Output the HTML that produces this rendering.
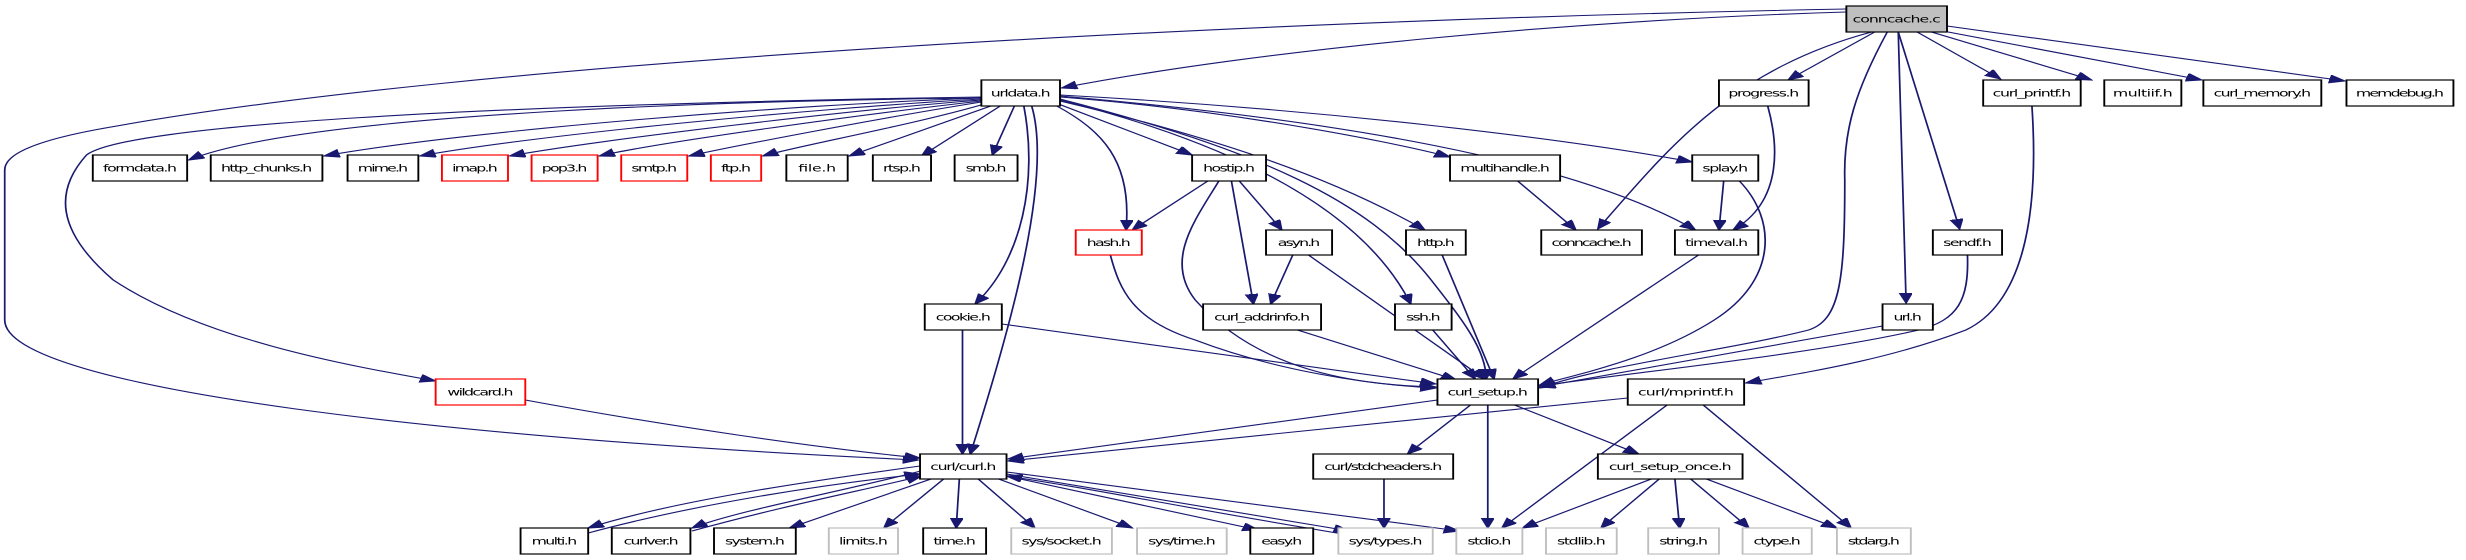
<!DOCTYPE html>
<html><head><meta charset="utf-8"><style>
html,body{margin:0;padding:0;background:#fff;}
svg{display:block;}
text{font-family:"DejaVu Sans","Liberation Sans",sans-serif;font-size:10px;text-anchor:middle;fill:#000;}
.n{fill:#fff;stroke:#000;stroke-width:1.2;}
.r{fill:#fff;stroke:#f00;stroke-width:1.2;}
.g{fill:#fff;stroke:#bfbfbf;stroke-width:1.2;}
.e{fill:none;stroke:#191970;stroke-width:1.1;marker-end:url(#a);}
</style></head><body>
<svg width="2466" height="560" viewBox="0 0 1568 560" preserveAspectRatio="none" xmlns="http://www.w3.org/2000/svg">
<defs><marker id="a" markerUnits="userSpaceOnUse" markerWidth="11" markerHeight="9" refX="10" refY="4" orient="auto"><path d="M0,0 L10,4 L0,8 z" fill="#191970" stroke="#191970"/></marker></defs>
<g>
<path class="e" d="M1174,12 C1000,20 800,50 675,88"/>
<path class="e" d="M1174,9 C800,20 300,60 60,130 C10,145 3,160 3,170 L3,320 C3,390 300,440 584,460"/>
<path class="e" d="M1190,32 C1100,70 1060,150 1016,229"/>
<path class="e" d="M1192,32 L1137,80"/>
<path class="e" d="M1200,32 C1180,90 1172,130 1173,180 C1173,280 1170,320 1150,330 C1100,350 1020,365 979,388"/>
<path class="e" d="M1207,32 L1246,229"/>
<path class="e" d="M1207,32 L1212,303"/>
<path class="e" d="M1219,32 L1272,79"/>
<path class="e" d="M1226,31 L1330,80"/>
<path class="e" d="M1232,30 L1400,80"/>
<path class="e" d="M1238,26 L1491,81"/>
<path class="e" d="M624,98 C500,100 200,110 120,160"/>
<path class="e" d="M624,98 C500,105 300,130 206,156"/>
<path class="e" d="M624,99 C520,108 340,135 267,156"/>
<path class="e" d="M624,100 C540,110 380,140 324,156"/>
<path class="e" d="M624,101 C550,114 420,142 381,156"/>
<path class="e" d="M624,102 C560,118 470,145 438,156"/>
<path class="e" d="M626,104 C580,125 510,145 485,156"/>
<path class="e" d="M630,106 L540,156"/>
<path class="e" d="M636,106 L586,156"/>
<path class="e" d="M645,106 L631,155"/>
<path class="e" d="M624,97 C300,105 80,125 55,155 C35,190 35,230 72,280 C130,340 220,365 277,381"/>
<path class="e" d="M651,106 C660,180 650,260 620,304"/>
<path class="e" d="M656,106 C670,180 640,340 617,454"/>
<path class="e" d="M672,106 C700,130 720,160 716,230"/>
<path class="e" d="M673,104 L758,155"/>
<path class="e" d="M674,101 C780,140 850,180 906,230"/>
<path class="e" d="M674,100 C800,150 870,220 897,304"/>
<path class="e" d="M674,99 C800,150 870,200 910,280 C930,320 945,350 945,379"/>
<path class="e" d="M674,97 C780,110 880,140 922,157"/>
<path class="e" d="M674,96 C850,120 1000,160 1078,230"/>
<path class="e" d="M674,95 C850,110 1000,140 1076,162"/>
<path class="e" d="M768,181 L720,230"/>
<path class="e" d="M788,181 L815,230"/>
<path class="e" d="M783,181 L797,304"/>
<path class="e" d="M775,181 C760,220 740,260 760,300 C800,370 860,385 913,387"/>
<path class="e" d="M965,181 L1002,230"/>
<path class="e" d="M1096,181 L1093,230"/>
<path class="e" d="M1106,181 C1130,220 1130,280 1090,320 C1050,360 1000,375 979,385"/>
<path class="e" d="M1124,106 C1130,140 1135,200 1102,230"/>
<path class="e" d="M1080,255 L962,379"/>
<path class="e" d="M822,255 L808,304"/>
<path class="e" d="M832,255 L944,379"/>
<path class="e" d="M706,255 C712,290 720,320 760,340 C810,370 870,385 913,388"/>
<path class="e" d="M917,255 L950,379"/>
<path class="e" d="M911,330 L938,379"/>
<path class="e" d="M825,330 L926,380"/>
<path class="e" d="M637,324 L913,384"/>
<path class="e" d="M612,330 L612,454"/>
<path class="e" d="M1251,255 C1252,300 1245,320 1220,330 C1150,355 1040,372 979,386"/>
<path class="e" d="M1197,326 L979,387"/>
<path class="e" d="M1292,106 C1296,200 1290,300 1250,330 C1200,360 1150,372 1110,383"/>
<path class="e" d="M334,400 C420,425 520,448 585,458"/>
<path class="e" d="M914,400 L641,459"/>
<path class="e" d="M1035,398 L641,461"/>
<path class="e" d="M935,405 L895,454"/>
<path class="e" d="M946,405 L946,528"/>
<path class="e" d="M963,405 L1042,454"/>
<path class="e" d="M1060,405 L955,528"/>
<path class="e" d="M1083,405 L1177,528"/>
<path class="e" d="M1050,479 L968,528"/>
<path class="e" d="M1055,479 L1018,528"/>
<path class="e" d="M1065,479 L1068,528"/>
<path class="e" d="M1075,479 L1112,528"/>
<path class="e" d="M1085,479 L1168,528"/>
<path class="e" d="M880,479 L880,528"/>
<path class="e" d="M585,466 C520,480 430,500 374,528"/>
<path class="e" d="M374,533 C440,505 520,485 585,474"/>
<path class="e" d="M588,470 C540,490 470,510 440,528"/>
<path class="e" d="M440,531 C500,505 550,490 586,476"/>
<path class="e" d="M592,479 L502,528"/>
<path class="e" d="M600,479 L562,528"/>
<path class="e" d="M610,479 L608,528"/>
<path class="e" d="M622,479 L658,528"/>
<path class="e" d="M635,479 L720,528"/>
<path class="e" d="M640,476 L800,530"/>
<path class="e" d="M640,474 L858,531"/>
<path class="e" d="M640,472 L928,531"/>
<path class="e" d="M858,535 C760,510 700,490 640,476"/>
</g>
<rect x="1174" y="6" width="64" height="26" fill="#bfbfbf" stroke="#000" stroke-width="1.2"/><text x="1206" y="22.5" textLength="56">conncache.c</text>
<rect class="n" x="624" y="80" width="50" height="26"/><text x="649" y="96.5" textLength="38">urldata.h</text>
<rect class="n" x="1093" y="80" width="57" height="26"/><text x="1121.5" y="96.5" textLength="45">progress.h</text>
<rect class="n" x="1261" y="80" width="62" height="26"/><text x="1292" y="96.5" textLength="50">curl_printf.h</text>
<rect class="n" x="1338" y="80" width="49" height="26"/><text x="1362.5" y="96.5" textLength="38">multiif.h</text>
<rect class="n" x="1401" y="80" width="75" height="26"/><text x="1438.5" y="96.5" textLength="62">curl_memory.h</text>
<rect class="n" x="1492" y="80" width="68" height="26"/><text x="1526" y="96.5" textLength="56">memdebug.h</text>
<rect class="n" x="59" y="155" width="60" height="26"/><text x="89" y="171.5" textLength="47">formdata.h</text>
<rect class="n" x="134" y="155" width="71" height="26"/><text x="169.5" y="171.5" textLength="58">http_chunks.h</text>
<rect class="n" x="221" y="155" width="45" height="26"/><text x="243.5" y="171.5" textLength="32">mime.h</text>
<rect class="r" x="281" y="155" width="42" height="26"/><text x="302" y="171.5" textLength="29">imap.h</text>
<rect class="r" x="338" y="155" width="42" height="26"/><text x="359" y="171.5" textLength="29">pop3.h</text>
<rect class="r" x="395" y="155" width="42" height="26"/><text x="416" y="171.5" textLength="29">smtp.h</text>
<rect class="r" x="452" y="155" width="32" height="26"/><text x="468" y="171.5" textLength="19">ftp.h</text>
<rect class="n" x="500" y="155" width="39" height="26"/><text x="519.5" y="171.5" textLength="24">file.h</text>
<rect class="n" x="555" y="155" width="37" height="26"/><text x="573.5" y="171.5" textLength="24">rtsp.h</text>
<rect class="n" x="607" y="155" width="40" height="26"/><text x="627" y="171.5" textLength="26">smb.h</text>
<rect class="n" x="758" y="155" width="47" height="26"/><text x="781.5" y="171.5" textLength="33">hostip.h</text>
<rect class="n" x="922" y="155" width="70" height="26"/><text x="957" y="171.5" textLength="57">multihandle.h</text>
<rect class="n" x="1076" y="155" width="42" height="26"/><text x="1097" y="171.5" textLength="29">splay.h</text>
<rect class="r" x="684" y="230" width="42" height="25"/><text x="705" y="246" textLength="28">hash.h</text>
<rect class="n" x="805" y="230" width="42" height="25"/><text x="826" y="246" textLength="27">asyn.h</text>
<rect class="n" x="894" y="230" width="38" height="25"/><text x="913" y="246" textLength="24">http.h</text>
<rect class="n" x="980" y="230" width="64" height="25"/><text x="1012" y="246" textLength="51">conncache.h</text>
<rect class="n" x="1065" y="230" width="53" height="25"/><text x="1091.5" y="246" textLength="40">timeval.h</text>
<rect class="n" x="1229" y="230" width="44" height="25"/><text x="1251" y="246" textLength="31">sendf.h</text>
<rect class="n" x="588" y="304" width="49" height="26"/><text x="612.5" y="320.5" textLength="35">cookie.h</text>
<rect class="n" x="765" y="304" width="75" height="26"/><text x="802.5" y="320.5" textLength="61">curl_addrinfo.h</text>
<rect class="n" x="887" y="304" width="36" height="26"/><text x="905" y="320.5" textLength="22">ssh.h</text>
<rect class="n" x="1197" y="304" width="32" height="26"/><text x="1213" y="320.5" textLength="18">url.h</text>
<rect class="r" x="277" y="379" width="57" height="26"/><text x="305.5" y="395.5" textLength="42">wildcard.h</text>
<rect class="n" x="914" y="379" width="64" height="26"/><text x="946" y="395.5" textLength="51">curl_setup.h</text>
<rect class="n" x="1035" y="379" width="74" height="26"/><text x="1072" y="395.5" textLength="61">curl/mprintf.h</text>
<rect class="n" x="585" y="454" width="55" height="25"/><text x="612.5" y="470" textLength="42">curl/curl.h</text>
<rect class="n" x="835" y="454" width="89" height="25"/><text x="879.5" y="470" textLength="75">curl/stdcheaders.h</text>
<rect class="n" x="1016" y="454" width="92" height="25"/><text x="1062" y="470" textLength="78">curl_setup_once.h</text>
<rect class="n" x="331" y="528" width="43" height="26"/><text x="352.5" y="544.5" textLength="29">multi.h</text>
<rect class="n" x="389" y="528" width="50" height="26"/><text x="414" y="544.5" textLength="35">curlver.h</text>
<rect class="n" x="454" y="528" width="52" height="26"/><text x="480" y="544.5" textLength="38">system.h</text>
<rect class="g" x="527" y="528" width="44" height="26"/><text x="549" y="544.5" textLength="31">limits.h</text>
<rect class="n" x="587" y="528" width="40" height="26"/><text x="607" y="544.5" textLength="27">time.h</text>
<rect class="g" x="643" y="528" width="64" height="26"/><text x="675" y="544.5" textLength="51">sys/socket.h</text>
<rect class="g" x="723" y="528" width="57" height="26"/><text x="751.5" y="544.5" textLength="43">sys/time.h</text>
<rect class="n" x="795" y="528" width="40" height="26"/><text x="815" y="544.5" textLength="26">easy.h</text>
<rect class="g" x="851" y="528" width="60" height="26"/><text x="881" y="544.5" textLength="47">sys/types.h</text>
<rect class="g" x="926" y="528" width="42" height="26"/><text x="947" y="544.5" textLength="28">stdio.h</text>
<rect class="g" x="983" y="528" width="45" height="26"/><text x="1005.5" y="544.5" textLength="31">stdlib.h</text>
<rect class="g" x="1048" y="528" width="45" height="26"/><text x="1070.5" y="544.5" textLength="31">string.h</text>
<rect class="g" x="1108" y="528" width="44" height="26"/><text x="1130" y="544.5" textLength="30">ctype.h</text>
<rect class="g" x="1168" y="528" width="47" height="26"/><text x="1191.5" y="544.5" textLength="33">stdarg.h</text>
</svg>
</body></html>
